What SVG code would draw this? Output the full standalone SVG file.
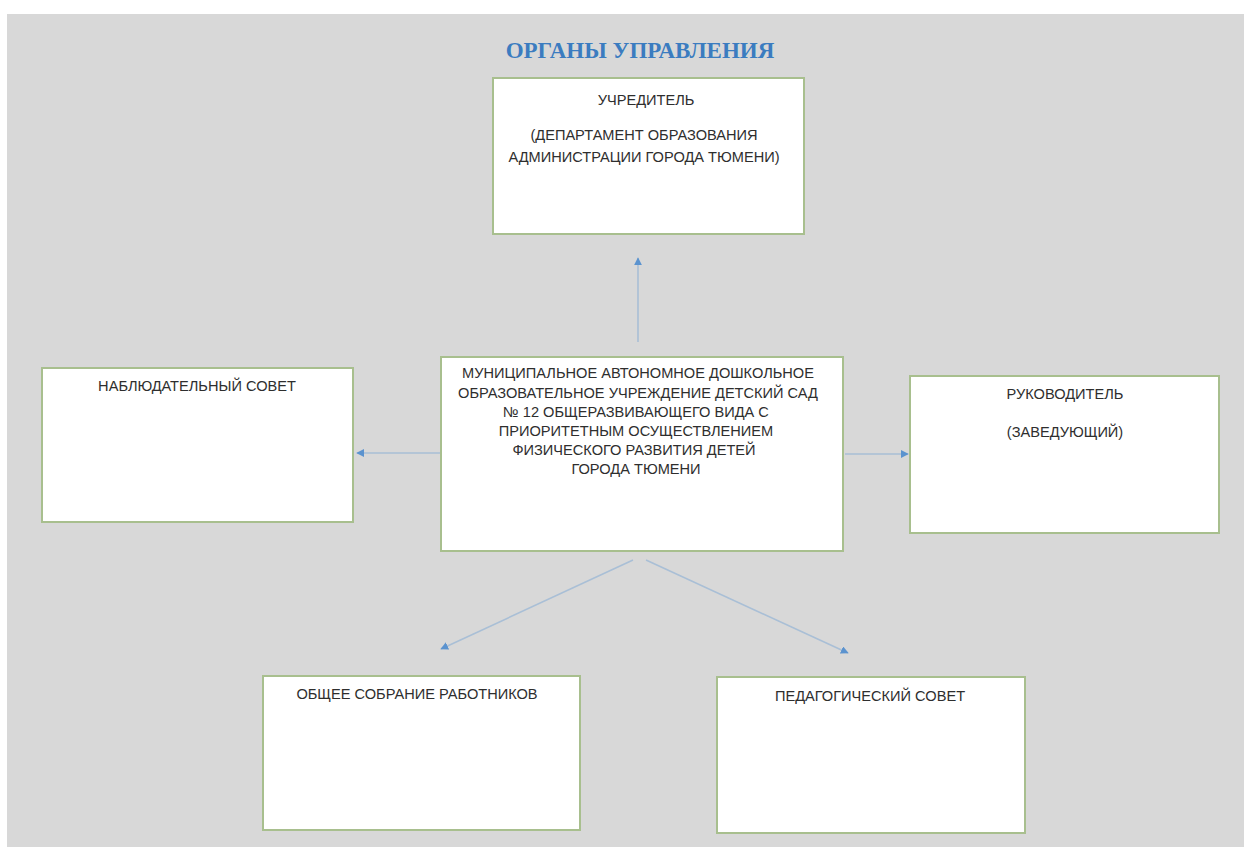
<svg xmlns="http://www.w3.org/2000/svg" width="1244" height="847" viewBox="0 0 1244 847">
<style>
.box{fill:#ffffff;stroke:#a8bf8e;stroke-width:2}
.t{font-family:"Liberation Sans","Open Sans",sans-serif;font-size:14.6px;fill:#2e2e2e;text-anchor:middle}
.title{font-family:"Liberation Serif","DejaVu Serif",serif;font-weight:bold;font-size:23px;fill:#3b7cc0;text-anchor:middle}
.c{stroke:#a9bfd6;stroke-width:1.6;fill:none;marker-end:url(#ah)}
</style>
<defs>
<marker id="ah" viewBox="0 0 10 10" refX="9" refY="5" markerWidth="5" markerHeight="5" orient="auto" markerUnits="strokeWidth">
<path d="M0,0 L10,5 L0,10 z" fill="#5b93cf"/>
</marker>
</defs>
<rect x="0" y="0" width="1244" height="847" fill="#ffffff"/>
<rect x="7" y="14" width="1237" height="833" fill="#d8d8d8"/>
<text class="title" x="640" y="58">ОРГАНЫ УПРАВЛЕНИЯ</text>
<g id="connectors">
<line class="c" x1="638" y1="342" x2="638" y2="258"/>
<line class="c" x1="440" y1="453" x2="357" y2="453"/>
<line class="c" x1="845" y1="454" x2="908" y2="454"/>
<line class="c" x1="633" y1="560" x2="441" y2="649"/>
<line class="c" x1="646" y1="560" x2="848" y2="653"/>
</g>
<g id="founder">
<rect class="box" x="493" y="78" width="311" height="156"/>
<text class="t" x="646" y="105">УЧРЕДИТЕЛЬ</text>
<text class="t" x="644" y="140">(ДЕПАРТАМЕНТ ОБРАЗОВАНИЯ</text>
<text class="t" x="644" y="162">АДМИНИСТРАЦИИ ГОРОДА ТЮМЕНИ)</text>
</g>
<g id="institution">
<rect class="box" x="441" y="357" width="402" height="194"/>
<text class="t" x="638" y="378">МУНИЦИПАЛЬНОЕ АВТОНОМНОЕ ДОШКОЛЬНОЕ</text>
<text class="t" x="638" y="398">ОБРАЗОВАТЕЛЬНОЕ УЧРЕЖДЕНИЕ ДЕТСКИЙ САД</text>
<text class="t" x="636" y="417">№ 12 ОБЩЕРАЗВИВАЮЩЕГО ВИДА С</text>
<text class="t" x="636" y="436">ПРИОРИТЕТНЫМ ОСУЩЕСТВЛЕНИЕМ</text>
<text class="t" x="634" y="455">ФИЗИЧЕСКОГО РАЗВИТИЯ ДЕТЕЙ</text>
<text class="t" x="636" y="474">ГОРОДА ТЮМЕНИ</text>
</g>
<g id="supervisory">
<rect class="box" x="42" y="368" width="311" height="154"/>
<text class="t" x="197" y="391">НАБЛЮДАТЕЛЬНЫЙ СОВЕТ</text>
</g>
<g id="head">
<rect class="box" x="910" y="376" width="309" height="157"/>
<text class="t" x="1065" y="399">РУКОВОДИТЕЛЬ</text>
<text class="t" x="1065" y="437">(ЗАВЕДУЮЩИЙ)</text>
</g>
<g id="general-meeting">
<rect class="box" x="263" y="676" width="317" height="154"/>
<text class="t" x="417" y="699">ОБЩЕЕ СОБРАНИЕ РАБОТНИКОВ</text>
</g>
<g id="pedagogical">
<rect class="box" x="717" y="677" width="308" height="156"/>
<text class="t" x="870" y="701">ПЕДАГОГИЧЕСКИЙ СОВЕТ</text>
</g>
</svg>
